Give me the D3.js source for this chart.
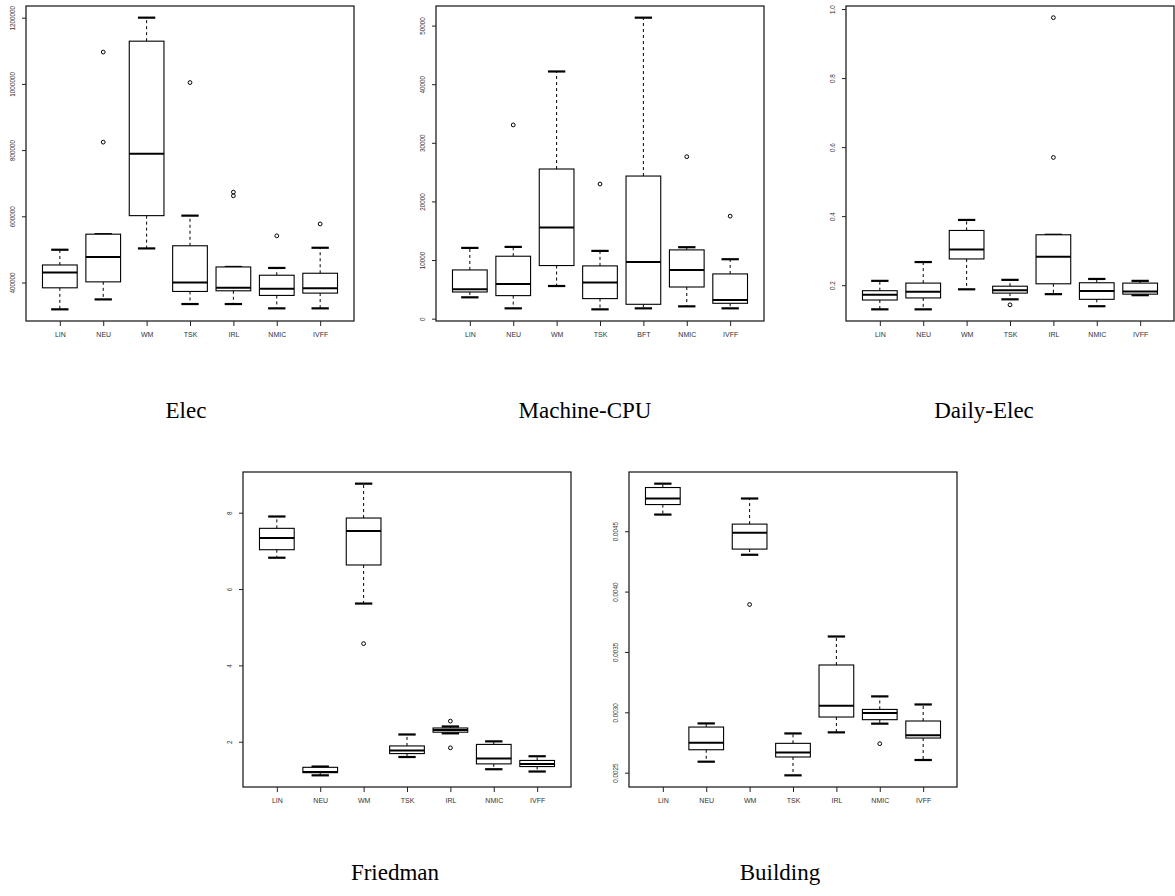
<!DOCTYPE html>
<html>
<head>
<meta charset="utf-8">
<script src="https://cdn.jsdelivr.net/npm/d3@7"></script>
<style>
  body { margin: 0; background: #fff; }
  svg { display: block; }
  .tick text { font-family: "Liberation Sans", Arial, sans-serif; font-size: 7px; fill: #333; }
  .yax .tick text { font-size: 6.3px; }
  .tick line { stroke: #222; }
  .title { font-family: "Liberation Serif", "Times New Roman", serif; font-size: 23px; fill: #000; }
</style>
</head>
<body>
<svg id="chart" width="1175" height="896"></svg>
<script>
// methods on the x axis
var methods    = ["LIN", "NEU", "WM", "TSK", "IRL", "NMIC", "IVFF"];
var methodsCpu = ["LIN", "NEU", "WM", "TSK", "BFT", "NMIC", "IVFF"];

// five-number summaries [lower whisker, Q1, median, Q3, upper whisker]
var elecStats = [
  [319000, 384000, 430000, 453000, 499000],
  [349000, 402000, 477000, 546000, 546000],
  [503000, 602000, 789000, 1129000, 1200000],
  [335000, 373000, 400000, 511000, 602000],
  [335000, 375000, 384000, 447000, 447000],
  [322000, 361000, 381000, 422000, 444000],
  [322000, 368000, 383000, 428000, 505000]
];
var elecOut = [[], [1096000, 824000], [], [1004000], [673000, 662000], [541000], [577000]];
var elecTicks = [400000, 600000, 800000, 1000000, 1200000];

var cpuStats = [
  [3640, 4550, 5010, 8310, 12070],
  [1760, 3930, 5920, 10650, 12240],
  [5570, 9060, 15560, 25530, 42170],
  [1590, 3420, 6160, 9000, 11560],
  [1760, 2450, 9680, 24330, 51350],
  [2100, 5400, 8310, 11730, 12190],
  [1760, 2620, 3180, 7630, 10140]
];
var cpuOut = [[], [33050], [], [22970], [], [27630], [17490]];
var cpuTicks = [0, 10000, 20000, 30000, 40000, 50000];

var dailyStats = [
  [0.130, 0.157, 0.172, 0.184, 0.2125],
  [0.130, 0.163, 0.181, 0.206, 0.267],
  [0.188, 0.276, 0.3035, 0.3585, 0.389],
  [0.159, 0.177, 0.185, 0.197, 0.2154],
  [0.174, 0.204, 0.282, 0.346, 0.346],
  [0.139, 0.159, 0.183, 0.207, 0.218],
  [0.171, 0.174, 0.182, 0.206, 0.2125]
];
var dailyOut = [[], [], [], [0.143], [0.975, 0.570], [], []];
var dailyTicks = [0.2, 0.4, 0.6, 0.8, 1.0];

var friedStats = [
  [6.82, 7.03, 7.34, 7.59, 7.90],
  [1.12, 1.19, 1.21, 1.33, 1.35],
  [5.62, 6.63, 7.52, 7.86, 8.76],
  [1.60, 1.69, 1.77, 1.89, 2.19],
  [2.22, 2.25, 2.31, 2.36, 2.40],
  [1.28, 1.42, 1.56, 1.93, 2.01],
  [1.22, 1.35, 1.42, 1.51, 1.62]
];
var friedOut = [[], [], [4.57], [], [2.54, 1.84], [], []];
var friedTicks = [2, 4, 6, 8];

var buildStats = [
  [0.004638, 0.004721, 0.004771, 0.004862, 0.004894],
  [0.002591, 0.002690, 0.002748, 0.002878, 0.002908],
  [0.004305, 0.004352, 0.004487, 0.004559, 0.004771],
  [0.002478, 0.002630, 0.002668, 0.002743, 0.002825],
  [0.002834, 0.002961, 0.003055, 0.003392, 0.003628],
  [0.002906, 0.002939, 0.002994, 0.003024, 0.003132],
  [0.002605, 0.002787, 0.002809, 0.002928, 0.003065]
];
var buildOut = [[], [], [0.003893], [], [], [0.00274], []];
var buildTicks = [0.0025, 0.0030, 0.0035, 0.0040, 0.0045];

var panels = [
  {title: "Elec",        cats: methods,    stats: elecStats,  out: elecOut,  ticks: elecTicks,  fmt: d3.format("d"),
   left: 26,  top: 6,   right: 354,  bottom: 321, titleX: 186, titleY: 418},
  {title: "Machine-CPU", cats: methodsCpu, stats: cpuStats,   out: cpuOut,   ticks: cpuTicks,   fmt: d3.format("d"),
   left: 436, top: 6,   right: 764,  bottom: 321, titleX: 585, titleY: 418},
  {title: "Daily-Elec",  cats: methods,    stats: dailyStats, out: dailyOut, ticks: dailyTicks, fmt: d3.format(".1f"),
   left: 846, top: 6,   right: 1174, bottom: 321, titleX: 984, titleY: 418},
  {title: "Friedman",    cats: methods,    stats: friedStats, out: friedOut, ticks: friedTicks, fmt: d3.format("d"),
   left: 243, top: 472, right: 571,  bottom: 787, titleX: 395, titleY: 880},
  {title: "Building",    cats: methods,    stats: buildStats, out: buildOut, ticks: buildTicks, fmt: d3.format(".4f"),
   left: 629, top: 472, right: 957,  bottom: 787, titleX: 780, titleY: 880}
];

var svg = d3.select("#chart");

panels.forEach(function(p) {
  var g = svg.append("g");
  var n = p.cats.length;

  // R style: xlim 0.5..n+0.5, extended 4%
  var x = d3.scaleLinear().domain([0.5 - n * 0.04, n + 0.5 + n * 0.04]).range([p.left, p.right]);

  var all = d3.merge(p.stats).concat(d3.merge(p.out));
  var lo = d3.min(all), hi = d3.max(all), pad = (hi - lo) * 0.04;
  var y = d3.scaleLinear().domain([lo - pad, hi + pad]).range([p.bottom, p.top]);

  var boxW = x(1.4) - x(1);     // half of boxwex 0.8
  var capW = boxW / 2;

  var box = g.selectAll(".bx")
    .data(p.stats)
    .enter().append("g")
      .attr("class", "bx");

  // dashed whiskers
  box.append("line")
    .attr("x1", function(d, i) { return x(i + 1); })
    .attr("x2", function(d, i) { return x(i + 1); })
    .attr("y1", function(d) { return y(d[3]); })
    .attr("y2", function(d) { return y(d[4]); })
    .attr("stroke", "#000").attr("stroke-dasharray", "3,3");
  box.append("line")
    .attr("x1", function(d, i) { return x(i + 1); })
    .attr("x2", function(d, i) { return x(i + 1); })
    .attr("y1", function(d) { return y(d[1]); })
    .attr("y2", function(d) { return y(d[0]); })
    .attr("stroke", "#000").attr("stroke-dasharray", "3,3");

  // staples
  [0, 4].forEach(function(k) {
    box.append("line")
      .attr("x1", function(d, i) { return x(i + 1) - capW; })
      .attr("x2", function(d, i) { return x(i + 1) + capW; })
      .attr("y1", function(d) { return y(d[k]); })
      .attr("y2", function(d) { return y(d[k]); })
      .attr("stroke", "#000").attr("stroke-width", 2.2);
  });

  // box
  box.append("rect")
    .attr("x", function(d, i) { return x(i + 1) - boxW; })
    .attr("width", boxW * 2)
    .attr("y", function(d) { return y(d[3]); })
    .attr("height", function(d) { return y(d[1]) - y(d[3]); })
    .attr("fill", "#fff").attr("stroke", "#000").attr("stroke-width", 1.1);

  // median
  box.append("line")
    .attr("x1", function(d, i) { return x(i + 1) - boxW; })
    .attr("x2", function(d, i) { return x(i + 1) + boxW; })
    .attr("y1", function(d) { return y(d[2]); })
    .attr("y2", function(d) { return y(d[2]); })
    .attr("stroke", "#000").attr("stroke-width", 2);

  // outliers
  var pts = [];
  p.out.forEach(function(arr, i) { arr.forEach(function(v) { pts.push({i: i, v: v}); }); });
  g.selectAll(".pt")
    .data(pts)
    .enter().append("circle")
      .attr("cx", function(d) { return x(d.i + 1); })
      .attr("cy", function(d) { return y(d.v); })
      .attr("r", 1.9)
      .attr("fill", "none").attr("stroke", "#000").attr("stroke-width", 1);

  // axes
  var ya = g.append("g")
    .attr("class", "yax")
    .attr("transform", "translate(" + p.left + ",0)")
    .call(d3.axisLeft(y).tickValues(p.ticks).tickFormat(p.fmt).tickSize(4));
  ya.select(".domain").remove();
  ya.selectAll(".tick text")
    .attr("x", null).attr("dy", null)
    .attr("transform", "translate(-13,0) rotate(-90)")
    .attr("dy", "0.35em")
    .style("text-anchor", "middle");

  var xa = g.append("g")
    .attr("transform", "translate(0," + p.bottom + ")")
    .call(d3.axisBottom(x).tickValues(d3.range(1, n + 1))
      .tickFormat(function(d) { return p.cats[d - 1]; }).tickSize(5).tickPadding(6));
  xa.select(".domain").remove();

  // frame
  g.append("rect")
    .attr("x", p.left).attr("y", p.top)
    .attr("width", p.right - p.left).attr("height", p.bottom - p.top)
    .attr("fill", "none").attr("stroke", "#222").attr("stroke-width", 1.3);

  svg.append("text")
    .attr("class", "title")
    .attr("x", p.titleX).attr("y", p.titleY)
    .style("text-anchor", "middle")
    .text(p.title);
});
</script>
</body>
</html>
